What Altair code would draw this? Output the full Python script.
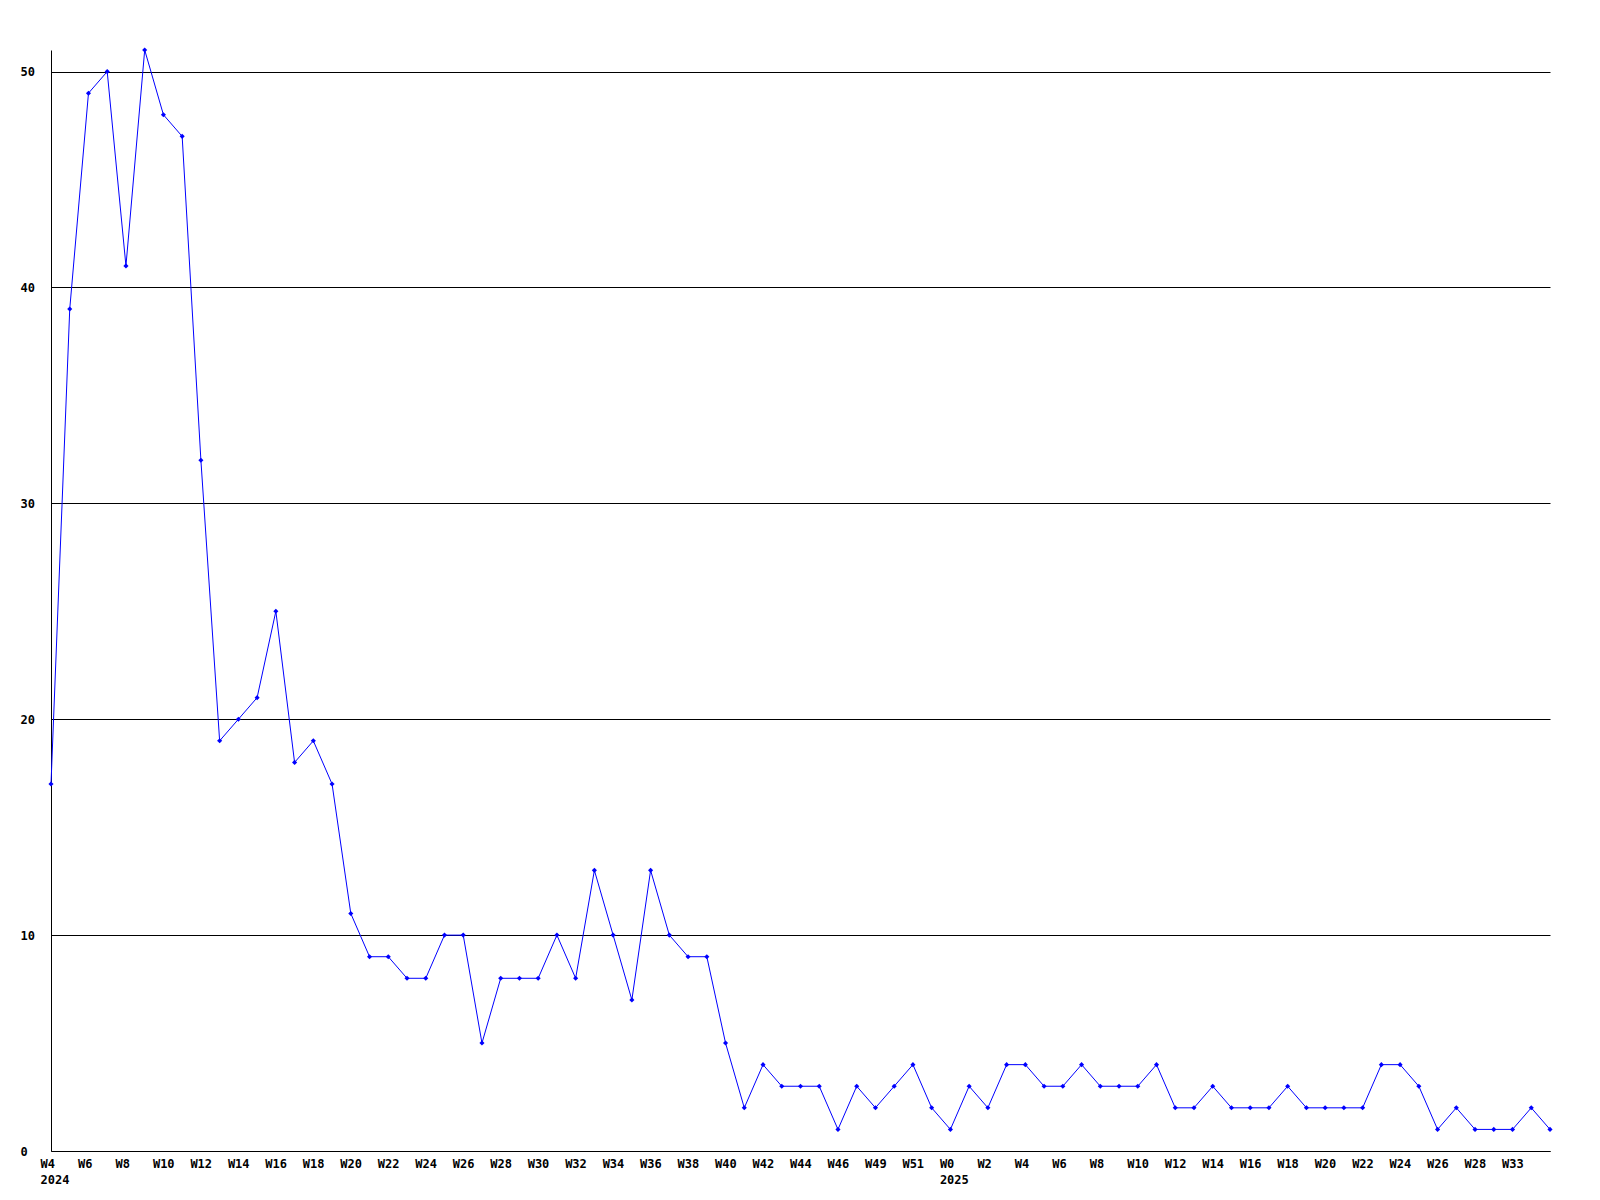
import json
import altair as alt
import pandas as pd

weeks = ["W4", "W5", "W6", "W7", "W8", "W9", "W10", "W11", "W12", "W13",
         "W14", "W15", "W16", "W17", "W18", "W19", "W20", "W21", "W22", "W23",
         "W24", "W25", "W26", "W27", "W28", "W29", "W30", "W31", "W32", "W33",
         "W34", "W35", "W36", "W37", "W38", "W39", "W40", "W41", "W42", "W43",
         "W44", "W45", "W46", "W48", "W49", "W50", "W51", "W52", "W0", "W1",
         "W2", "W3", "W4", "W5", "W6", "W7", "W8", "W9", "W10", "W11",
         "W12", "W13", "W14", "W15", "W16", "W17", "W18", "W19", "W20", "W21",
         "W22", "W23", "W24", "W25", "W26", "W27", "W28", "W31", "W33", "W34",
         "W35"]
year_marks = {0: "2024", 48: "2025"}
values = [17, 39, 49, 50, 41, 51, 48, 47, 32, 19,
          20, 21, 25, 18, 19, 17, 11, 9, 9, 8,
          8, 10, 10, 5, 8, 8, 8, 10, 8, 13,
          10, 7, 13, 10, 9, 9, 5, 2, 4, 3,
          3, 3, 1, 3, 2, 3, 4, 2, 1, 3,
          2, 4, 4, 3, 3, 4, 3, 3, 3, 4,
          2, 2, 3, 2, 2, 2, 3, 2, 2, 2,
          2, 4, 4, 3, 1, 2, 1, 1, 1, 2,
          1]
y_ticks = [0, 10, 20, 30, 40, 50]

df = pd.DataFrame({"idx": list(range(len(values))), "week": weeks, "value": values})

label_arr = [[w, year_marks[i]] if i in year_marks else [w] for i, w in enumerate(weeks)]
label_expr = json.dumps(label_arr) + "[round(datum.value)]"
x_ticks = list(range(0, 79, 2))

FONT = "DejaVu Sans Mono"

chart = alt.Chart(df).mark_line(
    color="#0000FF", strokeWidth=1,
    point=alt.OverlayMarkDef(shape="diamond", size=26, filled=True, color="#0000FF"),
).encode(
    x=alt.X("idx:Q", scale=alt.Scale(domain=[0, len(values) - 1], nice=False, zero=False),
            axis=alt.Axis(values=x_ticks, labelExpr=label_expr, title=None, grid=False,
                          ticks=False, tickSize=0, domainColor="black", domainWidth=1,
                          labelFont=FONT, labelFontSize=12, labelFontWeight="bold",
                          labelColor="black", labelAlign="left", labelOffset=-11,
                          labelBaseline="top", labelPadding=7, labelLineHeight=16,
                          labelOverlap=False, labelFlush=False)),
    y=alt.Y("value:Q", scale=alt.Scale(domain=[0, 51], nice=False),
            axis=alt.Axis(values=y_ticks, title=None, grid=True, gridColor="black",
                          gridWidth=1, gridOpacity=1, ticks=False, tickSize=0,
                          domainColor="black", domainWidth=1,
                          labelFont=FONT, labelFontSize=12, labelFontWeight="bold",
                          labelColor="black", labelAlign="left", labelPadding=31,
                          labelBaseline="middle", labelFlush=False)),
).properties(
    width=1499, height=1101,
    autosize=alt.AutoSizeParams(type="none"),
    padding={"left": 43, "top": 42, "right": 30, "bottom": 40},
    background="white",
).configure_view(stroke=None)

chart.save("out.html", embed_options={"renderer": "svg", "actions": False})
